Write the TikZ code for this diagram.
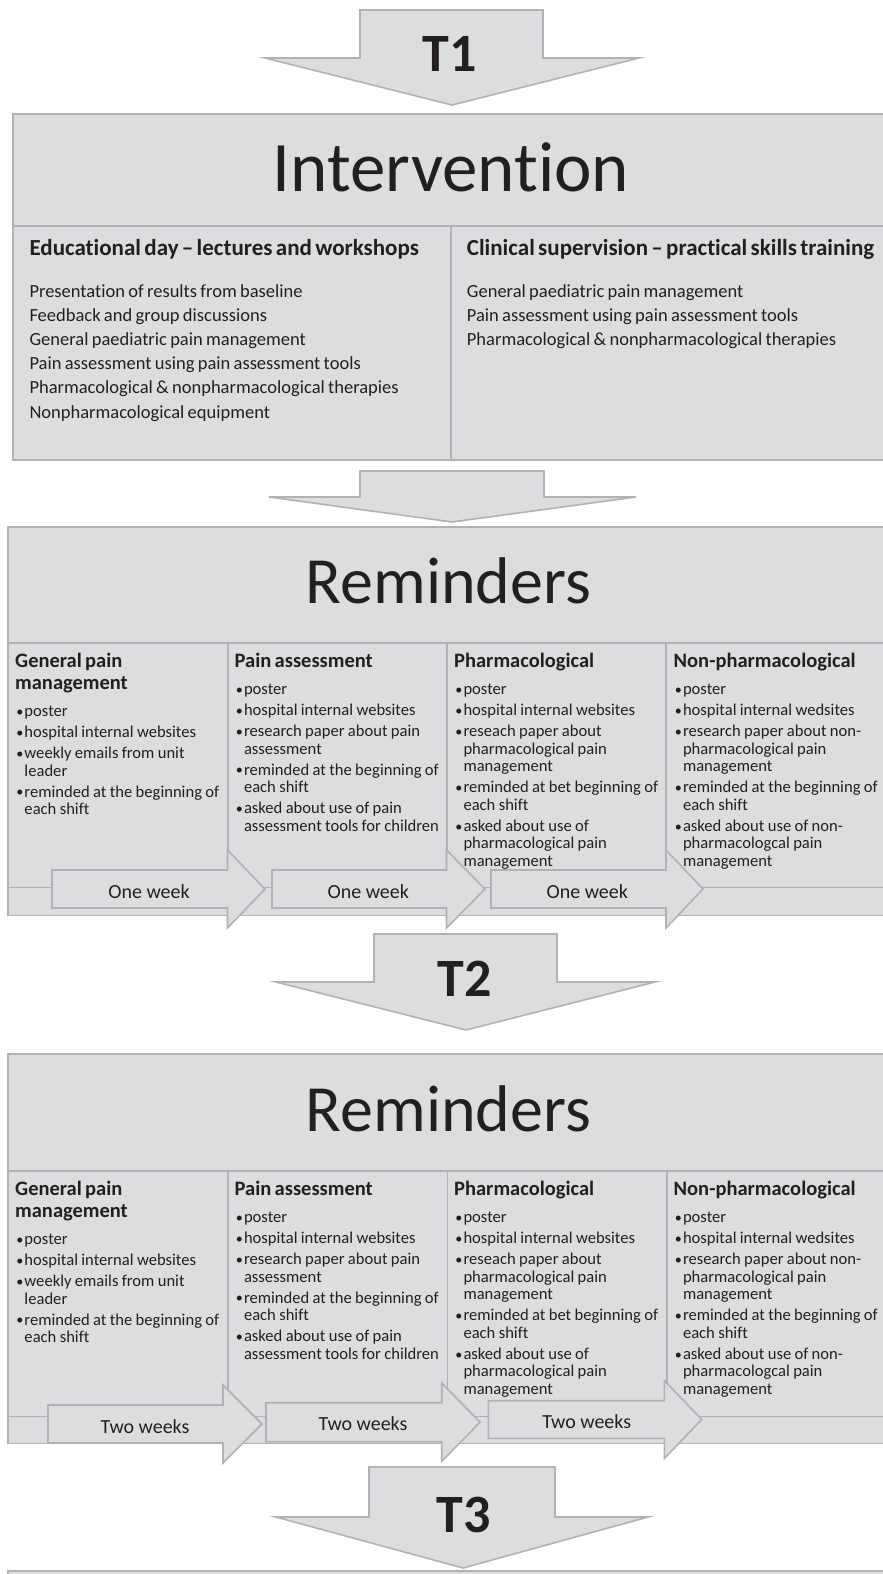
\documentclass[tikz,border=0pt]{standalone}
\usepackage{fontspec}
\setmainfont{Carlito}[Ligatures=NoCommon]
\definecolor{boxfill}{RGB}{220,221,223}
\definecolor{boxline}{RGB}{176,178,181}
\definecolor{txt}{RGB}{35,31,32}
\newcommand\lnbr{\unskip\break}
\newcommand\bul{\makebox[9.3pt][l]{\hspace{1.2pt}\raisebox{0.3pt}{\scalebox{0.85}{•}}}}
\newcommand\ri[1]{\par\hangindent=9.3pt\hangafter=1\noindent\bul#1}
\newcommand\rcol[2]{{\fontsize{20.5}{22}\selectfont\bfseries #1\par}\vspace{6.5pt}\fontsize{16.6}{17.6}\selectfont #2\par}
\newcommand\colGen{\rcol{General pain\lnbr management}{\ri{poster}\ri{hospital internal websites}\ri{weekly emails from unit\lnbr leader}\ri{reminded at the beginning of\lnbr each shift}}}
\newcommand\colAss{\rcol{Pain assessment}{\ri{poster}\ri{hospital internal websites}\ri{research paper about pain\lnbr assessment}\ri{reminded at the beginning of\lnbr each shift}\ri{asked about use of pain\lnbr assessment tools for children}}}
\newcommand\colPha{\rcol{Pharmacological}{\ri{poster}\ri{hospital internal websites}\ri{reseach paper about\lnbr pharmacological pain\lnbr management}\ri{reminded at bet beginning of\lnbr each shift}\ri{asked about use of\lnbr pharmacological pain\lnbr management}}}
\newcommand\colNon{\rcol{Non-pharmacological}{\ri{poster}\ri{hospital internal wedsites}\ri{research paper about non-\lnbr pharmacological pain\lnbr management}\ri{reminded at the beginning of\lnbr each shift}\ri{asked about use of non-\lnbr pharmacologcal pain\lnbr management}}}
\newcommand\icol[2]{{\fontsize{23}{26}\selectfont\bfseries #1\par}\vspace{17.8pt}\fontsize{18.5}{24.2}\selectfont #2\par}

\begin{document}
\begin{tikzpicture}[x=1pt,y=-1pt,
  panel/.style={fill=boxfill,draw=boxline,line width=1.6pt},
  rule/.style={draw=boxline,line width=1.6pt},
  blockarrow/.style={fill=boxfill,draw=boxline,line width=1.6pt,line join=miter},
  bigtitle/.style={inner sep=0pt,anchor=base,text=txt},
  tlabel/.style={inner sep=0pt,anchor=base,text=txt,font=\fontsize{54}{60}\selectfont\bfseries},
  wlabel/.style={inner sep=0pt,anchor=base,text=txt,font=\fontsize{20}{24}\selectfont},
  remcol/.style={inner sep=0pt,anchor=base west,text=txt,text width=212pt,align=left,
    execute at begin node={\parindent=0pt\parskip=3.4pt\relax}},
  intcol/.style={inner sep=0pt,anchor=base west,text=txt,text width=420pt,align=left,
    execute at begin node={\parindent=0pt\parskip=0pt\relax}}
]
\useasboundingbox (0,0) rectangle (883,1574);
\clip (0,0) rectangle (883,1574);

% ---------- T1 arrow ----------
\draw[blockarrow] (360,10) -- (543,10) -- (543,58) -- (639,58) -- (452,105) -- (265,58) -- (360,58) -- cycle;
\node[tlabel] (t1) at (450,71.7) {T1};

% ---------- Intervention box ----------
\draw[panel] (12.7,114) rectangle (895,460);
\draw[rule] (12.7,226) -- (895,226);
\draw[rule] (451,226) -- (451,460);
\node[bigtitle,font=\fontsize{71}{80}\selectfont] (intv) at (451,191.7) {Intervention};
\node[intcol] (intL) at (29.3,255) {\icol{Educational day – lectures and workshops}{%
Presentation of results from baseline\par
Feedback and group discussions\par
General paediatric pain management\par
Pain assessment using pain assessment tools\par
Pharmacological \& nonpharmacological therapies\par
Nonpharmacological equipment}};
\node[intcol] (intR) at (466.7,255) {\icol{Clinical supervision – practical skills training}{%
General paediatric pain management\par
Pain assessment using pain assessment tools\par
Pharmacological \& nonpharmacological therapies}};

% ---------- arrow to reminders ----------
\draw[blockarrow] (360,471) -- (544,471) -- (544,497) -- (636,497) -- (452,522) -- (269,497) -- (360,497) -- cycle;

% ---------- Reminders box 1 ----------
\draw[panel] (8,527) rectangle (895,915.5);
\draw[rule] (8,643) -- (895,643);
\draw[rule,line width=1pt] (8,887) -- (895,887);
\draw[rule] (228,643) -- (228,887);
\draw[rule] (446.7,643) -- (446.7,887);
\draw[rule] (666,643) -- (666,887);
\node[bigtitle,font=\fontsize{66}{72}\selectfont] (rem1) at (448.5,603.3) {Reminders};

\draw[blockarrow] (52,870) -- (227.5,870) -- (227.5,850) -- (265,889) -- (227.5,928) -- (227.5,908) -- (52,908) -- cycle;
\draw[blockarrow] (272,870) -- (446.5,870) -- (446.5,850) -- (485,889) -- (446.5,928) -- (446.5,908) -- (272,908) -- cycle;
\draw[blockarrow] (491,870) -- (666,870) -- (666,850) -- (703,889) -- (666,928) -- (666,908) -- (491,908) -- cycle;
\node[wlabel] (w1) at (149,898) {One week};
\node[wlabel] (w2) at (368.3,898) {One week};
\node[wlabel] (w3) at (587.3,898) {One week};

\node[remcol] (r1c1) at (15,667) {\colGen};
\node[remcol] (r1c2) at (234.5,667) {\colAss};
\node[remcol] (r1c3) at (454,667) {\colPha};
\node[remcol] (r1c4) at (673.5,667) {\colNon};

% ---------- T2 arrow ----------
\draw[blockarrow] (374,934) -- (557,934) -- (557,982) -- (655,982) -- (466,1030) -- (276,982) -- (374,982) -- cycle;
\node[tlabel] (t2) at (465,996) {T2};

% ---------- Reminders box 2 ----------
\draw[panel] (8,1054) rectangle (895,1443.5);
\draw[rule] (8,1171) -- (895,1171);
\draw[rule,line width=1pt] (8,1416) -- (895,1416);
\draw[rule] (227.7,1171) -- (227.7,1416);
\draw[rule] (447.3,1171) -- (447.3,1416);
\draw[rule] (666.7,1171) -- (666.7,1416);
\node[bigtitle,font=\fontsize{66}{72}\selectfont] (rem2) at (448.5,1131.7) {Reminders};

\draw[blockarrow] (48,1405) -- (223,1405) -- (223,1385) -- (262,1424) -- (223,1463) -- (223,1443) -- (48,1443) -- cycle;
\draw[blockarrow] (266,1402.7) -- (441.7,1402.7) -- (441.7,1383) -- (480,1422.2) -- (441.7,1461.4) -- (441.7,1441.7) -- (266,1441.7) -- cycle;
\draw[blockarrow] (488.3,1400.7) -- (664.3,1400.7) -- (664.3,1380.5) -- (701.7,1419.5) -- (664.3,1458.5) -- (664.3,1438.3) -- (488.3,1438.3) -- cycle;
\node[wlabel] (v1) at (145,1433.3) {Two weeks};
\node[wlabel] (v2) at (363,1430.7) {Two weeks};
\node[wlabel] (v3) at (586.7,1428.3) {Two weeks};

\node[remcol] (r2c1) at (15,1195) {\colGen};
\node[remcol] (r2c2) at (234.5,1195) {\colAss};
\node[remcol] (r2c3) at (454,1195) {\colPha};
\node[remcol] (r2c4) at (673.5,1195) {\colNon};

% ---------- bottom box edge and T3 ----------
\draw[panel] (8,1571) rectangle (895,1600);
\draw[blockarrow] (369,1467) -- (555,1467) -- (555,1517) -- (648,1517) -- (463,1568) -- (276,1517) -- (369,1517) -- cycle;
\node[tlabel] (t3) at (464,1532) {T3};
\end{tikzpicture}
\end{document}
